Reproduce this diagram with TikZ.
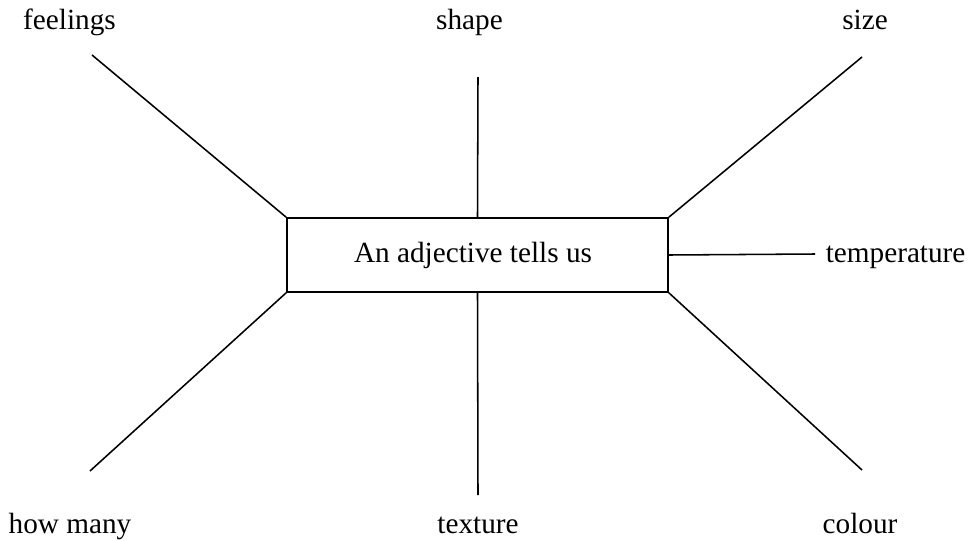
\documentclass[tikz,border=0pt]{standalone}
\usepackage{fontspec}
\setmainfont{Liberation Serif}
\usepackage{tikz}

\begin{document}
\begin{tikzpicture}[x=0.025cm,y=-0.025cm,line width=1.1pt,
  every node/.style={font=\fontsize{20.8}{25}\selectfont},
  word/.style={inner sep=0pt, anchor=base}]
  \useasboundingbox (0,0) rectangle (968,540);
  \node[draw, rectangle, minimum width=9.525cm, minimum height=1.85cm] (adj) at (477.5,255) {};
  \node[word] (adjtext) at (473,262) {An adjective tells us};
  % Free ends of the spokes
  \coordinate (f) at (92,55);
  \coordinate (sh) at (478,77);
  \coordinate (si) at (862,57);
  \coordinate (te) at (815,254);
  \coordinate (co) at (862,470);
  \coordinate (tx) at (478,495);
  \coordinate (hm) at (90,471);
  % Labels
  \node[word] (feelings) at (69.5,29) {feelings};
  \node[word] (shape) at (469.5,29) {shape};
  \node[word] (size) at (865,29) {size};
  \node[word, anchor=base west] (temperature) at (825,262) {temperature};
  \node[word] (colour) at (860,533) {colour};
  \node[word] (texture) at (478,533) {texture};
  \node[word] (howmany) at (70,533) {how many};
  % Draw the spokes
  \draw (adj.north west) -- (f);
  \draw (adj.north) -- (sh);
  \draw (adj.north east) -- (si);
  \draw (adj.east) -- (te);
  \draw (adj.south east) -- (co);
  \draw (adj.south) -- (tx);
  \draw (adj.south west) -- (hm);
\end{tikzpicture}
\end{document}
